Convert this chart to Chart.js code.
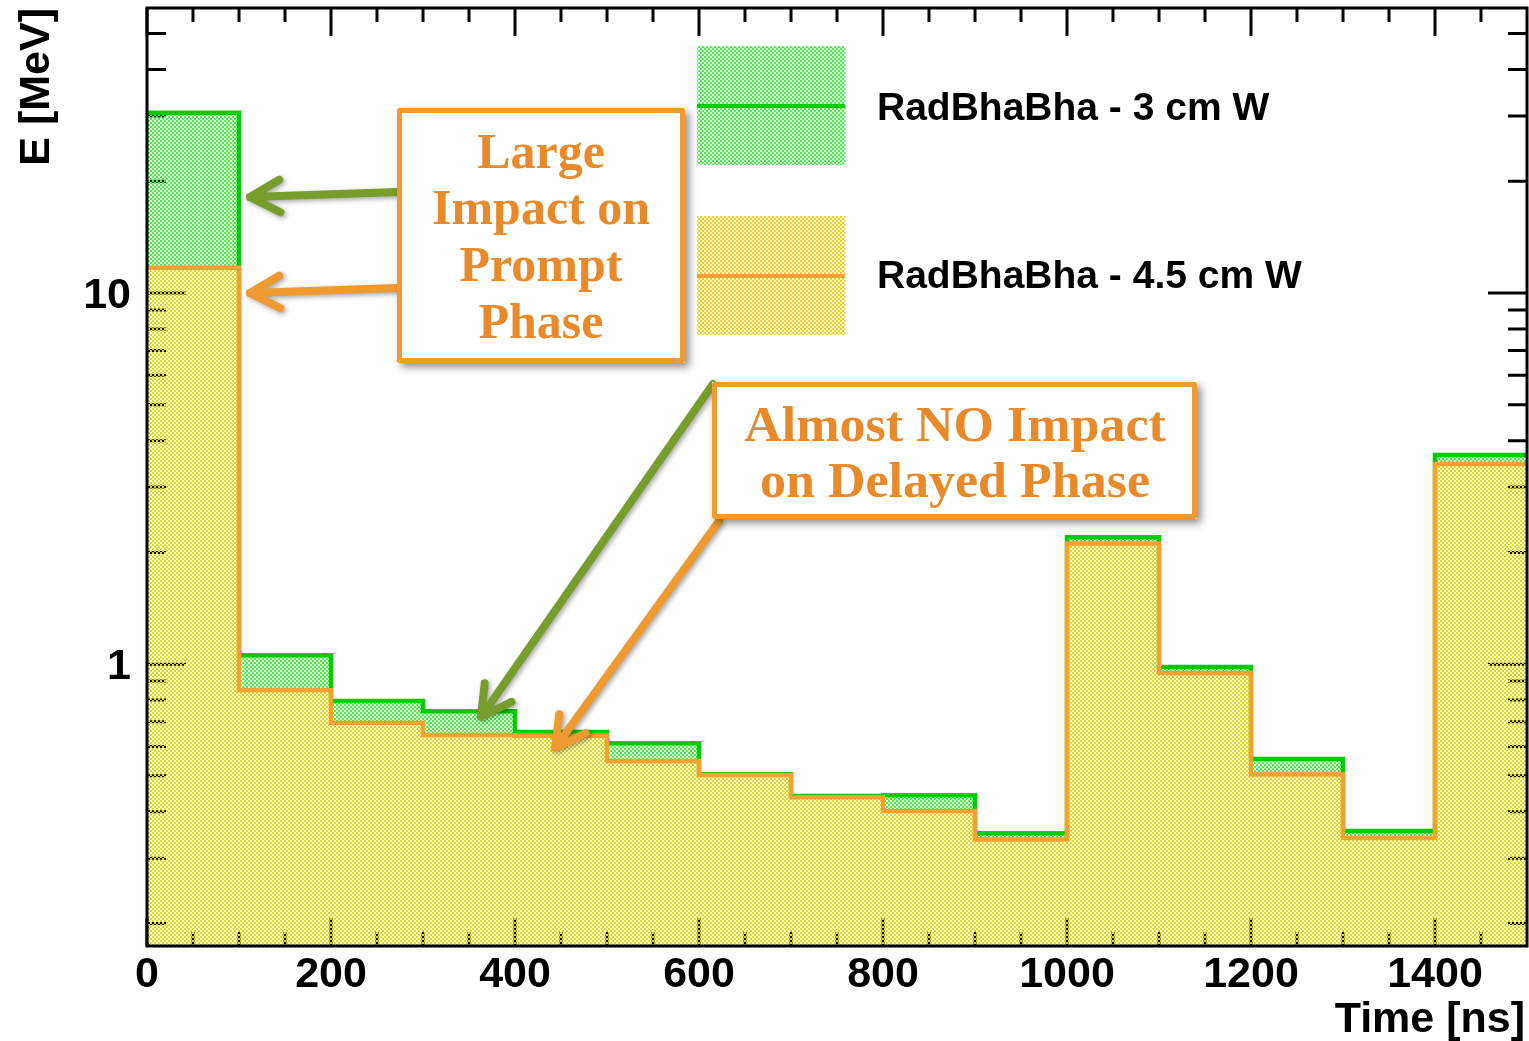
<!DOCTYPE html>
<html>
<head>
<meta charset="utf-8">
<script src="https://cdn.jsdelivr.net/npm/chart.js@4.4.1/dist/chart.umd.min.js"></script>
<style>
  html, body { margin: 0; padding: 0; background: #fff; }
  #wrap { width: 1529px; height: 1041px; }
</style>
</head>
<body>
<div id="wrap"><canvas id="histo" width="1529" height="1041"></canvas></div>
<script>
// bins: 100 ns wide, 0 .. 1500 ns
const binStarts = [0, 100, 200, 300, 400, 500, 600, 700, 800, 900, 1000, 1100, 1200, 1300, 1400];
const binEnd = 1500;
// energy per bin [MeV]
const rad3cm = [30.6, 1.057, 0.795, 0.747, 0.656, 0.612, 0.505, 0.441, 0.443, 0.350, 2.196, 0.983, 0.555, 0.355, 3.66];
const rad45cm = [11.7, 0.851, 0.695, 0.644, 0.641, 0.548, 0.503, 0.438, 0.402, 0.337, 2.114, 0.947, 0.504, 0.340, 3.46];
const seriesNames = ["RadBhaBha - 3 cm W", "RadBhaBha - 4.5 cm W"];

const xMajorTicks = [0, 200, 400, 600, 800, 1000, 1200, 1400];
const xMinorTicks = [50, 100, 150, 250, 300, 350, 450, 500, 550, 650, 700, 750, 850, 900, 950, 1050, 1100, 1150, 1250, 1300, 1350, 1450];
const yMajorTicks = [1, 10];
const yMinorTicks = [0.2, 0.3, 0.4, 0.5, 0.6, 0.7, 0.8, 0.9, 2, 3, 4, 5, 6, 7, 8, 9, 20, 30, 40, 50];

const GREEN = "#00cc00";
const ORANGE = "#f5a033";
const ANNOT = "#e88a2a";

const canvas = document.getElementById("histo");
const ctx0 = canvas.getContext("2d");

function checker(color) {
  const c = document.createElement("canvas");
  c.width = 4; c.height = 4;
  const g = c.getContext("2d");
  g.fillStyle = color;
  g.fillRect(0, 0, 2, 2);
  g.fillRect(2, 2, 2, 2);
  return ctx0.createPattern(c, "repeat");
}
const greenFill = checker("#33ff33");
const yellowFill = checker("#e2dc00");
const yellowLegend = checker("#ffcc00");

function histPoints(vals) {
  const pts = binStarts.map((x, i) => ({ x: x, y: vals[i] }));
  pts.push({ x: binEnd, y: vals[vals.length - 1] });
  return pts;
}

function arrow(ctx, x1, y1, x2, y2, color) {
  const a = Math.atan2(y2 - y1, x2 - x1);
  const L = 34, s = 0.5;
  ctx.save();
  ctx.strokeStyle = color;
  ctx.lineWidth = 8;
  ctx.lineCap = "round";
  ctx.lineJoin = "round";
  ctx.shadowColor = "rgba(0,0,0,0.35)";
  ctx.shadowBlur = 5;
  ctx.shadowOffsetX = 2;
  ctx.shadowOffsetY = 2;
  ctx.beginPath();
  ctx.moveTo(x1, y1);
  ctx.lineTo(x2, y2);
  ctx.moveTo(x2 - L * Math.cos(a - s), y2 - L * Math.sin(a - s));
  ctx.lineTo(x2, y2);
  ctx.lineTo(x2 - L * Math.cos(a + s), y2 - L * Math.sin(a + s));
  ctx.stroke();
  ctx.restore();
}

function textBox(ctx, x, y, w, h, lines, cx, baselines, stretch) {
  ctx.save();
  ctx.shadowColor = "rgba(0,0,0,0.45)";
  ctx.shadowBlur = 8;
  ctx.shadowOffsetX = 4;
  ctx.shadowOffsetY = 4;
  ctx.fillStyle = "#fff";
  ctx.fillRect(x, y, w, h);
  ctx.restore();
  ctx.save();
  ctx.strokeStyle = "#f09a30";
  ctx.lineWidth = 5;
  ctx.lineJoin = "round";
  ctx.strokeRect(x + 2.5, y + 2.5, w - 5, h - 5);
  ctx.fillStyle = ANNOT;
  ctx.font = 'bold 50px "Liberation Serif"';
  ctx.textAlign = "center";
  ctx.textBaseline = "alphabetic";
  ctx.translate(cx, 0);
  ctx.scale(stretch, 1);
  lines.forEach((t, i) => ctx.fillText(t, 0, baselines[i]));
  ctx.restore();
}

const rootStyle = {
  id: "rootStyle",
  beforeDatasetsDraw(chart) {
    const { ctx, chartArea: a, scales: { x, y } } = chart;
    ctx.save();
    ctx.strokeStyle = "#000";
    ctx.lineWidth = 3;
    ctx.beginPath();
    xMajorTicks.forEach(v => {
      const px = x.getPixelForValue(v);
      ctx.moveTo(px, a.bottom); ctx.lineTo(px, a.bottom - 28);
      ctx.moveTo(px, a.top); ctx.lineTo(px, a.top + 28);
    });
    xMinorTicks.forEach(v => {
      const px = x.getPixelForValue(v);
      ctx.moveTo(px, a.bottom); ctx.lineTo(px, a.bottom - 14);
      ctx.moveTo(px, a.top); ctx.lineTo(px, a.top + 14);
    });
    yMajorTicks.forEach(v => {
      const py = y.getPixelForValue(v);
      ctx.moveTo(a.left, py); ctx.lineTo(a.left + 39, py);
      ctx.moveTo(a.right, py); ctx.lineTo(a.right - 39, py);
    });
    yMinorTicks.forEach(v => {
      const py = y.getPixelForValue(v);
      ctx.moveTo(a.left, py); ctx.lineTo(a.left + 19, py);
      ctx.moveTo(a.right, py); ctx.lineTo(a.right - 19, py);
    });
    ctx.stroke();
    ctx.restore();
  },
  afterDatasetsDraw(chart) {
    const { ctx, chartArea: a, scales: { x, y } } = chart;
    ctx.save();
    // frame
    ctx.strokeStyle = "#000";
    ctx.lineWidth = 3;
    ctx.strokeRect(a.left, a.top, a.right - a.left, a.bottom - a.top);

    // tick labels
    ctx.fillStyle = "#000";
    ctx.font = 'bold 43px "Liberation Sans"';
    ctx.textAlign = "center";
    ctx.textBaseline = "middle";
    xMajorTicks.forEach(v => ctx.fillText(String(v), x.getPixelForValue(v), a.bottom + 29));
    ctx.textAlign = "right";
    yMajorTicks.forEach(v => ctx.fillText(String(v), 131, y.getPixelForValue(v) + 3));

    // axis titles
    ctx.textBaseline = "alphabetic";
    ctx.textAlign = "right";
    ctx.fillText("Time [ns]", 1525, 1032);
    ctx.save();
    ctx.translate(49, 8);
    ctx.rotate(-Math.PI / 2);
    ctx.textAlign = "right";
    ctx.fillText("E [MeV]", 0, 0);
    ctx.restore();

    // legend
    const legendRows = [
      { top: 46, fill: greenFill, line: GREEN, base: 120 },
      { top: 216, fill: yellowLegend, line: ORANGE, base: 288 }
    ];
    ctx.font = 'bold 39px "Liberation Sans"';
    ctx.textAlign = "left";
    legendRows.forEach((r, i) => {
      ctx.fillStyle = r.fill;
      ctx.fillRect(697, r.top, 148, 119);
      ctx.strokeStyle = r.line;
      ctx.lineWidth = 4;
      ctx.beginPath();
      ctx.moveTo(697, r.top + 60); ctx.lineTo(845, r.top + 60);
      ctx.stroke();
      ctx.fillStyle = "#000";
      ctx.fillText(seriesNames[i], 877, r.base);
    });
    ctx.restore();

    // annotations
    arrow(ctx, 398, 192, 250, 197, "#779e2c");
    arrow(ctx, 398, 288, 250, 293, "#ee9a30");
    arrow(ctx, 713, 384, 481, 717, "#779e2c");
    arrow(ctx, 719, 521, 555, 748, "#ee9a30");
    textBox(ctx, 397, 108, 288, 255, ["Large", "Impact on", "Prompt", "Phase"], 541, [168, 224, 281, 338], 1.0);
    textBox(ctx, 712, 382, 485, 137, ["Almost NO Impact", "on Delayed Phase"], 955, [441, 497], 1.04);
  }
};

new Chart(canvas, {
  type: "line",
  data: {
    datasets: [
      {
        label: seriesNames[1],
        data: histPoints(rad45cm),
        stepped: "before",
        borderColor: ORANGE,
        borderWidth: 4.5,
        backgroundColor: yellowFill,
        fill: "start",
        pointRadius: 0,
        order: 1
      },
      {
        label: seriesNames[0],
        data: histPoints(rad3cm),
        stepped: "before",
        borderColor: GREEN,
        borderWidth: 4.5,
        backgroundColor: greenFill,
        fill: "start",
        pointRadius: 0,
        order: 2
      }
    ]
  },
  options: {
    responsive: false,
    animation: false,
    layout: { padding: { left: 147, right: 2, top: 8, bottom: 95 } },
    plugins: {
      legend: { display: false },
      tooltip: { enabled: false }
    },
    scales: {
      x: { type: "linear", min: 0, max: 1500, display: false },
      y: { type: "logarithmic", min: 0.174, max: 58.6, display: false }
    }
  },
  plugins: [rootStyle]
});
</script>
</body>
</html>
